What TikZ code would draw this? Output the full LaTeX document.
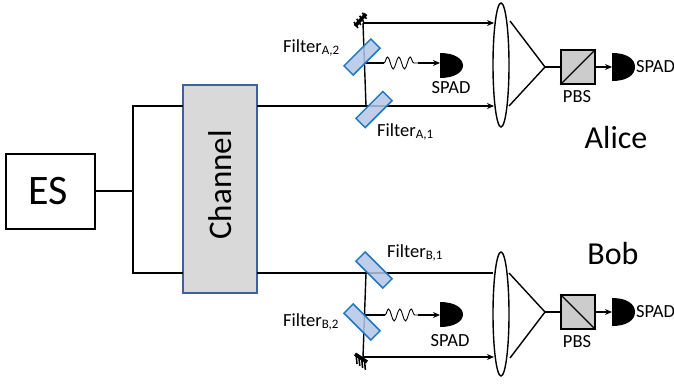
\documentclass[tikz,border=0pt]{standalone}
\usepackage{fontspec}
\setmainfont{Carlito}
\usetikzlibrary{arrows.meta,decorations.pathmorphing,shapes.geometric}
\definecolor{filterfill}{HTML}{B4C7E7}
\definecolor{filterline}{HTML}{1F78C1}
\definecolor{chanline}{HTML}{3E629E}
\tikzset{
 wire/.style={draw=black,line width=1.4pt},
 arrowwire/.style={wire,-{Stealth[length=7pt,width=6pt]}},
 filterbox/.style={draw=filterline,line width=1.5pt,fill=filterfill,fill opacity=.85,minimum width=38pt,minimum height=13pt,inner sep=0pt,shape=rectangle},
 lensshape/.style={draw=black,line width=1.4pt,shape=ellipse,minimum width=16pt,minimum height=124pt,inner sep=0pt},
 pbsbox/.style={draw=black,line width=1.6pt,fill=black!20,minimum width=34pt,minimum height=34pt,inner sep=0pt,shape=rectangle},
 small/.style={font=\fontsize{18.5}{18.5}\selectfont,inner sep=0pt},
 flabel/.style={font=\fontsize{18.5}{18.5}\selectfont,inner sep=0pt,anchor=west},
 big/.style={font=\fontsize{32}{32}\selectfont,inner sep=0pt},
 spadfill/.style={fill=black,draw=none},
 mirrorbar/.style={draw=black,line width=3.5pt},
 hatchline/.style={draw=black,line width=1.6pt},
 wavy/.style={draw=black,line width=.9pt,decorate,decoration={snake,amplitude=6pt,segment length=11.3pt}},
}
\newcommand{\dshape}[3]{% x, y top, y bottom
 \fill[spadfill] (#1,#2) .. controls ({#1+15},#2) and ({#1+23},{#2+6}) .. ({#1+23},{(#2+#3)/2}) .. controls ({#1+23},{#3-6}) and ({#1+15},#3) .. (#1,#3) -- cycle;}
\begin{document}
\begin{tikzpicture}[x=1pt,y=-1pt]
\useasboundingbox (0,0) rectangle (674,383);
% main boxes
\node[draw=black,line width=1.2pt,minimum width=89pt,minimum height=75pt,inner sep=0pt] (es) at (50.5,191.5) {};
\node[inner sep=0pt,font=\fontsize{42}{42}\selectfont] (eslabel) at (48,191) {ES};
\node[draw=chanline,line width=1.3pt,fill=black!15,minimum width=74pt,minimum height=208pt,inner sep=0pt] (chan) at (220,189) {};
\node[font=\fontsize{33}{33}\selectfont,inner sep=0pt,rotate=90] (chanlabel) at (220,185) {Channel};
% feed
\coordinate (split) at (133,191);
\coordinate (up) at (133,106);
\coordinate (down) at (133,273);
\coordinate (chanAin) at (183,106);
\coordinate (chanBin) at (183,273);
\coordinate (chanAout) at (257,106);
\coordinate (chanBout) at (257,273);
\draw[wire] (es.east |- split) -- (split);
\draw[wire] (chanAin) -- (up) -- (down) -- (chanBin);
% Alice
\node[lensshape] (lensA) at (501,65) {};
\coordinate (fA1hit) at (366,106);
\coordinate (mirA) at (363,23);
\coordinate (fA2out) at (364.7,63);
\coordinate (waveAs) at (384,63);
\coordinate (waveAe) at (418,63);
\coordinate (spadA) at (440,65);
\coordinate (lensAin1) at (494,23);
\coordinate (lensAin2) at (494,106);
\draw[arrowwire] (chanAout) -- (lensAin2);
\draw[wire] (fA1hit) -- (mirA);
\draw[arrowwire] (mirA) -- (lensAin1);
\draw[wire] (fA2out) -- (waveAs);
\draw[wavy] (waveAs) -- (waveAe);
\draw[arrowwire] (waveAe) -- (spadA |- waveAe);
\node[filterbox,rotate=45] (fA1) at (374,109.5) {};
\node[filterbox,rotate=45] (fA2) at (362,57) {};
\draw[mirrorbar] (355,26) -- (366,14);
\foreach \d in {0,2.8,5.6,8.4}{\draw[hatchline] ({354+\d},{22-\d*1.1}) -- ({358+\d},{28-\d*1.1});}
\dshape{440}{53}{78}
\node[small] (spadAlab) at (451,88) {SPAD};
\node[flabel] (fA2lab) at (283,48) {Filter\textsubscript{A,2}};
\node[flabel] (fA1lab) at (377,132) {Filter\textsubscript{A,1}};
\coordinate (coneAt) at (510,21);
\coordinate (coneAb) at (509,106);
\coordinate (coneAa) at (545,67);
\draw[wire] (coneAt) -- (coneAa) -- (coneAb);
\node[pbsbox] (pbsA) at (578,67) {};
\draw[wire,line width=1.2pt] (pbsA.south west) -- (pbsA.north east);
\draw[wire] (coneAa) -- (pbsA.west);
\coordinate (spadA2) at (612,67);
\draw[arrowwire] (pbsA.east) -- (spadA2);
\dshape{612}{53}{81}
\node[small,anchor=west] (spadA2lab) at (636,67) {SPAD};
\node[small] (pbsAlab) at (577,97) {PBS};
\node[big] (alice) at (616,137) {Alice};
% Bob
\node[lensshape] (lensB) at (501,314) {};
\coordinate (fB1hit) at (366,273);
\coordinate (mirB) at (363,357);
\coordinate (fB2out) at (364.7,315);
\coordinate (waveBs) at (385,315);
\coordinate (waveBe) at (418,315);
\coordinate (spadB) at (440,315);
\coordinate (lensBin1) at (493,273);
\coordinate (lensBin2) at (494,357);
\draw[wire] (chanBout) -- (lensBin1);
\draw[wire] (fB1hit) -- (mirB);
\draw[arrowwire] (mirB) -- (lensBin2);
\draw[wire] (fB2out) -- (waveBs);
\draw[wavy] (waveBs) -- (waveBe);
\draw[arrowwire] (waveBe) -- (spadB);
\node[filterbox,rotate=-45] (fB1) at (374,270) {};
\node[filterbox,rotate=-45] (fB2) at (362,322) {};
\draw[mirrorbar] (355,354) -- (367,362);
\foreach \d in {0,2.8,5.6,8.4}{\draw[hatchline] ({356+\d},{354+\d*.7}) -- ({357+\d},{364+\d*.7});}
\dshape{440}{302}{327}
\node[small] (spadBlab) at (450,341) {SPAD};
\node[flabel] (fB1lab) at (387,253) {Filter\textsubscript{B,1}};
\node[flabel] (fB2lab) at (283,322) {Filter\textsubscript{B,2}};
\coordinate (coneBt) at (509,273);
\coordinate (coneBb) at (510,358);
\coordinate (coneBa) at (545,312);
\draw[wire] (coneBt) -- (coneBa) -- (coneBb);
\node[pbsbox] (pbsB) at (578,312) {};
\draw[wire,line width=1.2pt] (pbsB.north west) -- (pbsB.south east);
\draw[wire] (coneBa) -- (pbsB.west);
\coordinate (spadB2) at (612,312);
\draw[arrowwire] (pbsB.east) -- (spadB2);
\dshape{612}{298}{326}
\node[small,anchor=west] (spadB2lab) at (636,312) {SPAD};
\node[small] (pbsBlab) at (577,342) {PBS};
\node[big] (bob) at (613,253) {Bob};
\end{tikzpicture}
\end{document}
